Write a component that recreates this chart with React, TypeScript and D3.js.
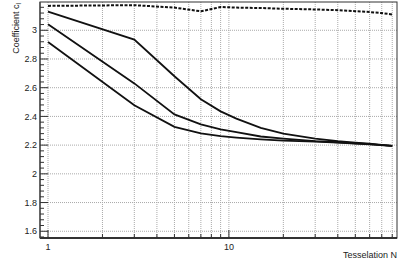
import React from "react";
import * as d3 from "d3";

const tessN = [1, 3, 5, 7, 9, 11, 15, 20, 30, 40, 50, 60, 70, 80];
const seriesA = [3.13, 2.935, 2.68, 2.52, 2.435, 2.385, 2.32, 2.28, 2.245, 2.228, 2.218, 2.21, 2.202, 2.195];
const seriesB = [3.042, 2.63, 2.414, 2.345, 2.31, 2.29, 2.26, 2.245, 2.228, 2.22, 2.213, 2.207, 2.2, 2.195];
const seriesC = [2.919, 2.478, 2.327, 2.282, 2.262, 2.252, 2.24, 2.232, 2.224, 2.217, 2.211, 2.205, 2.2, 2.195];
const seriesD = [3.17, 3.175, 3.158, 3.132, 3.162, 3.158, 3.155, 3.15, 3.145, 3.14, 3.133, 3.127, 3.12, 3.11];
const yTickLabels = ["1.6", "1.8", "2", "2.2", "2.4", "2.6", "2.8", "3"];
const xTickLabels = ["1", "10"];

const W = 399, H = 265;
const L = 40, R = 397, T = 2, B = 238;

export default function App() {
  const x = d3.scaleLog().domain([0.903, 85]).range([L, R]);
  const y = d3.scaleLinear().domain([1.553, 3.197]).range([B, T]);
  const line = d3.line<number>().x((_, i) => x(tessN[i])).y((d) => y(d));

  const xMinor: number[] = [];
  for (let dec = 1; dec <= 10; dec *= 10)
    for (let k = 1; k <= 9; k++) {
      const v = k * dec;
      if (v <= 85) xMinor.push(v);
    }
  const yMinor: number[] = [];
  for (let v = 1.56; v <= 3.2; v += 0.04) yMinor.push(+v.toFixed(2));
  const font = "'Liberation Sans', Arial, sans-serif";

  return (
    <svg width={W} height={H} style={{ position: "absolute", left: 0, top: 0 }} fontFamily={font}>
      <rect width={W} height={H} fill="#fff" />
      {/* grid */}
      {xMinor.map((v) => (
        <line key={"gx" + v} x1={x(v)} x2={x(v)} y1={T} y2={B} stroke="#aaa" strokeWidth={1} strokeDasharray="1,1" />
      ))}
      {yTickLabels.map((t) => (
        <line key={"gy" + t} x1={L} x2={R} y1={y(+t)} y2={y(+t)} stroke="#aaa" strokeWidth={1} strokeDasharray="1,1" />
      ))}
      {/* frame */}
      <rect x={L} y={T} width={R - L} height={B - T} fill="none" stroke="#333" strokeWidth={1} />
      <line x1={L} x2={R} y1={B} y2={B} stroke="#111" strokeWidth={1.5} />
      <line x1={L} x2={L} y1={T} y2={B} stroke="#555" strokeWidth={1.5} />
      {/* y ticks */}
      {yMinor.map((v) => {
        const major = yTickLabels.includes(String(+v.toFixed(1))) && Math.abs(v * 5 - Math.round(v * 5)) < 1e-6;
        return <line key={"yt" + v} x1={L} x2={L + (major ? 8 : 4)} y1={y(v)} y2={y(v)} stroke="#333" strokeWidth={1} />;
      })}
      {yTickLabels.map((t) => (
        <text key={"yl" + t} x={37} y={y(+t)} dy="0.35em" textAnchor="end" fontSize={9} fill="#222">{t}</text>
      ))}
      {/* x ticks */}
      {xMinor.map((v) => {
        const major = v === 1 || v === 10;
        return <line key={"xt" + v} x1={x(v)} x2={x(v)} y1={B} y2={B - (major ? 8 : 4)} stroke="#333" strokeWidth={1} />;
      })}
      {xTickLabels.map((t) => (
        <text key={"xl" + t} x={x(+t)} y={250} textAnchor="middle" fontSize={9} fill="#222">{t}</text>
      ))}
      <text x={397} y={258} textAnchor="end" fontSize={9} fill="#222">Tesselation N</text>
      <text transform="translate(19,3) rotate(-90)" textAnchor="end" fontSize={9} fill="#222">
        Coefficient c<tspan fontSize={6.5} dy="2">l</tspan>
      </text>
      {/* data */}
      {[seriesA, seriesB, seriesC].map((s, i) => (
        <path key={"s" + i} d={line(s) || ""} fill="none" stroke="#111" strokeWidth={1.8} />
      ))}
      <path d={line(seriesD) || ""} fill="none" stroke="#111" strokeWidth={2} strokeDasharray="3,1.5" />
    </svg>
  );
}
